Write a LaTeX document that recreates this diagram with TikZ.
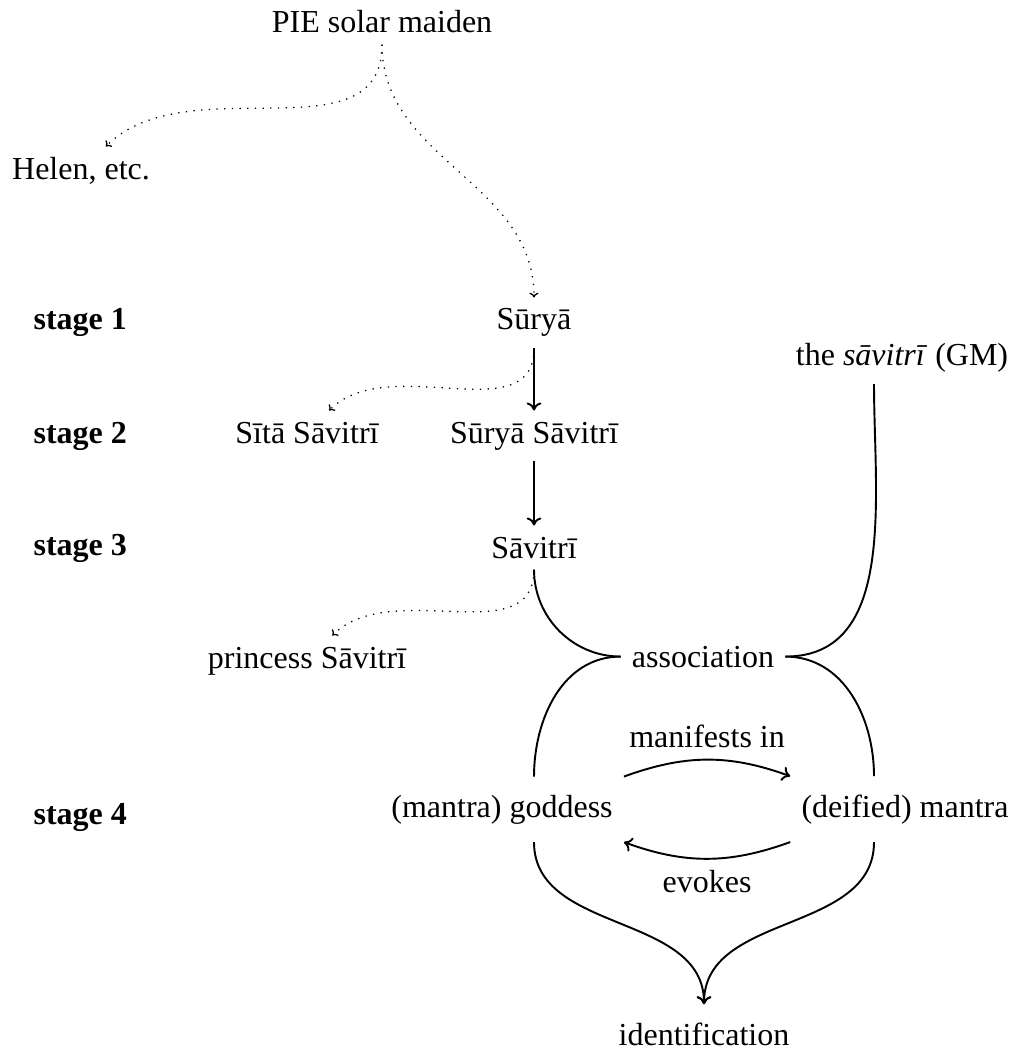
\documentclass[tikz,border=0pt]{standalone}
\usepackage{fontspec}
\setmainfont{Liberation Serif}
\usetikzlibrary{arrows.meta}
\begin{document}
\begin{tikzpicture}[x=0.3125pt,y=0.3125pt,
  lbl/.style={inner sep=0.3333em, anchor=base},
  tall/.style={lbl, inner ysep=5.5pt},
  stagelbl/.style={anchor=base west, inner sep=0pt, font=\bfseries},
  conn/.style={line width=0.6pt, -{Computer Modern Rightarrow[length=2.5pt,width=4.6pt]}},
  brace/.style={line width=0.6pt},
  faint/.style={line width=0.4pt, dotted, -{Computer Modern Rightarrow[length=1.5pt,width=2.8pt]}}]
\useasboundingbox (0,0) rectangle (1015,-1053);

% stages of development
\node[stagelbl] (st1) at (33,-330) {stage 1};
\node[stagelbl] (st2) at (33,-443) {stage 2};
\node[stagelbl] (st3) at (33,-555) {stage 3};
\node[stagelbl] (st4) at (33,-824) {stage 4};

% figures
\node[lbl] (pie) at (382,-33) {PIE solar maiden};
\node[lbl] (helen) at (81,-180) {Helen, etc.};
\node[lbl] (surya) at (534,-330) {Sūryā};
\node[lbl] (gm) at (902,-366) {the \textit{sāvitrī} (GM)};
\node[lbl] (sita) at (307,-443) {Sītā Sāvitrī};
\node[lbl] (ss) at (534,-443) {Sūryā Sāvitrī};
\node[lbl] (sav) at (534,-558) {Sāvitrī};
\node[lbl] (princess) at (307,-668) {princess Sāvitrī};
\node[lbl] (assoc) at (703,-667) {association};
\node[tall] (goddess) at (502,-817) {(mantra) goddess};
\node[tall] (mantra) at (905,-817) {(deified) mantra};
\node[tall] (ident) at (704,-1045) {identification};
\coordinate (rcol) at (874,0);

% descent lines
\draw[faint] (pie.south) to[out=-90,in=45] (helen.45);
\draw[faint] (pie.south) to[out=-90,in=90] (surya.north);
\draw[faint] (surya.south) to[out=-90,in=45] (sita.45);
\draw[faint] (sav.south) to[out=-90,in=45] (princess.45);
\draw[conn] (surya.south) -- (ss.north);
\draw[conn] (ss.south) -- (sav.north);

% association braces
\draw[brace] (sav.south) to[out=-90,in=180] (assoc.west);
\draw[brace] (rcol |- gm.south) to[out=-90,in=0] (assoc.east);
\draw[brace] (assoc.west) to[out=180,in=90] (sav.south |- goddess.north);
\draw[brace] (assoc.east) to[out=0,in=90] (rcol |- mantra.north);

% goddess and mantra
\draw[conn] (goddess.north east) to[out=20,in=160]
  node[above] (mani) {manifests in} (mantra.north west);
\draw[conn] (mantra.south west) to[out=-160,in=-20]
  node[below] (evok) {evokes} (goddess.south east);

% identification
\draw[conn] (sav.south |- goddess.south) to[out=-90,in=90] (ident.north);
\draw[conn] (rcol |- mantra.south) to[out=-90,in=90] (ident.north);
\end{tikzpicture}
\end{document}
